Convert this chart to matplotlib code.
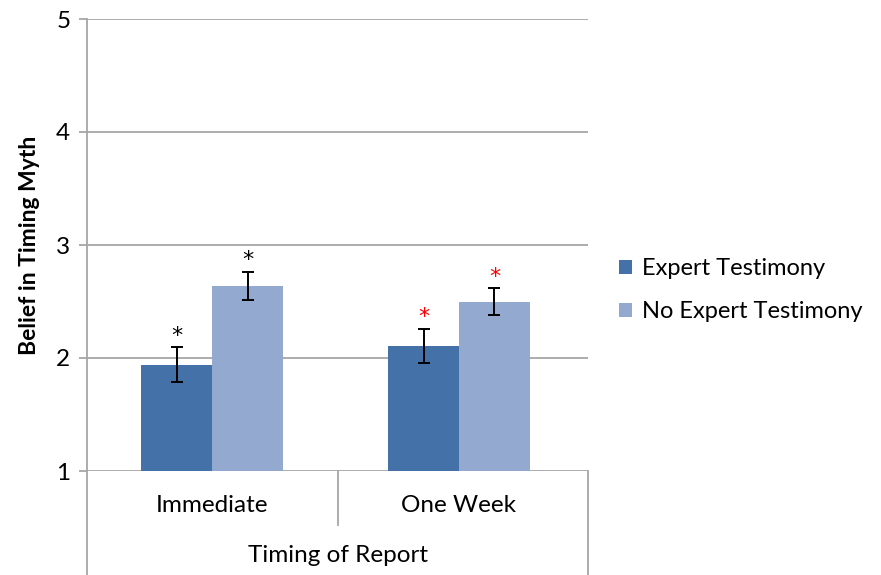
import matplotlib
matplotlib.use("Agg")
import matplotlib.pyplot as plt
import numpy as np

# data
categories = ["Immediate", "One Week"]
series_names = ["Expert Testimony", "No Expert Testimony"]
expert = [1.94, 2.11]
expert_err = [0.155, 0.15]
no_expert = [2.64, 2.50]
no_expert_err = [0.125, 0.12]
star_colors = ["black", "red"]

plt.rcParams['font.family'] = ['Lato', 'DejaVu Sans']

colors = ["#4472a8", "#93a9d0"]
grid_col = "#a6a6a6"
fs = 17.5

fig = plt.figure(figsize=(8.81, 5.75), dpi=100)
ax = fig.add_axes([87 / 881, 104 / 575, 501 / 881, 452 / 575])

x = np.array([0, 0.985])
w = 0.283
ekw = dict(ecolor="black", elinewidth=1.4, capthick=1.4)
b1 = ax.bar(x - w / 2, np.array(expert) - 1, w, bottom=1, color=colors[0],
            yerr=expert_err, capsize=4, error_kw=ekw, label=series_names[0], zorder=3)
b2 = ax.bar(x + w / 2, np.array(no_expert) - 1, w, bottom=1, color=colors[1],
            yerr=no_expert_err, capsize=4, error_kw=ekw, label=series_names[1], zorder=3)

# significance stars above error bars
for i in range(len(categories)):
    for xpos, val, err in [(x[i] - w / 2, expert[i], expert_err[i]),
                           (x[i] + w / 2, no_expert[i], no_expert_err[i])]:
        ax.annotate("*", (xpos, val + err), xytext=(0, 1), textcoords="offset points",
                    ha="center", va="bottom", fontsize=16, color=star_colors[i],
                    family="DejaVu Sans")

ax.set_xlim(-0.5, 1.5)
ax.set_ylim(1, 5)
ax.set_yticks([1, 2, 3, 4, 5])
ax.yaxis.grid(True, color=grid_col, linewidth=1.3, zorder=0)
ax.set_axisbelow(True)
ax.tick_params(axis="y", length=6, width=1.3, color=grid_col, labelsize=fs, pad=6)
ax.tick_params(axis="x", length=0, labelbottom=False)
for s in ["top", "right", "bottom"]:
    ax.spines[s].set_visible(False)
ax.spines["left"].set_color(grid_col)
ax.spines["left"].set_linewidth(1.3)

# hierarchical category axis under the plot
trans = ax.get_xaxis_transform()
ax.plot([-0.5, -0.5], [0, -0.23], transform=trans, color=grid_col, lw=1.3, clip_on=False)
ax.plot([1.5, 1.5], [0, -0.23], transform=trans, color=grid_col, lw=1.3, clip_on=False)
ax.plot([0.5, 0.5], [0, -0.12], transform=trans, color=grid_col, lw=1.3, clip_on=False)
for i, c in enumerate(categories):
    ax.text(x[i], -0.077, c, transform=trans, ha="center", va="center", fontsize=fs)
ax.text(0.5, -0.188, "Timing of Report", transform=trans, ha="center", va="center", fontsize=fs)

ax.set_ylabel("Belief in Timing Myth", fontsize=16.5, fontweight="bold", labelpad=12)

ax.legend(handles=[b1, b2], loc="center left", bbox_to_anchor=(1.02, 0.40), frameon=False,
          fontsize=17, handlelength=0.55, handleheight=0.55, handletextpad=0.4, labelspacing=0.95)

fig.savefig("out.png", dpi=100)
